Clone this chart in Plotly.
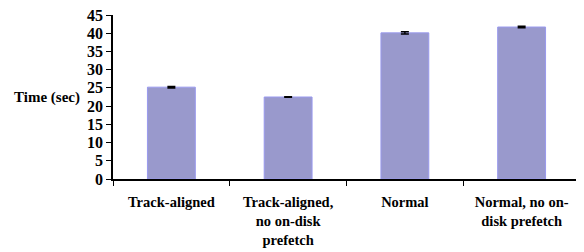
import plotly.graph_objects as go

categories = ["Track-aligned", "Track-aligned,<br>no on-disk<br>prefetch", "Normal", "Normal, no on-<br>disk prefetch"]
times = [25.2, 22.5, 40.1, 41.7]
errors = [0.2, 0.1, 0.3, 0.2]
y_ticks = [0, 5, 10, 15, 20, 25, 30, 35, 40, 45]

# The page body has an 8px default margin, so the figure is offset by 8px.
fig = go.Figure(go.Bar(
    x=categories, y=times,
    marker=dict(color="#9999cc", line=dict(color="#9999ee", width=1)),
    width=0.41,
    error_y=dict(type="data", array=errors, visible=True, color="black", thickness=1.5, width=4),
))

fig.update_layout(
    width=576, height=244,
    margin=dict(l=105, r=4, t=7, b=73),
    paper_bgcolor="white", plot_bgcolor="white",
    showlegend=False,
    font=dict(family="Liberation Serif", size=14, color="black"),
    xaxis=dict(showline=True, linecolor="black", linewidth=1.5, ticks="outside", ticklen=5,
               tickcolor="black", tickson="boundaries", showgrid=False, automargin=False,
               ticklabelstandoff=9,
               tickfont=dict(family="Liberation Serif", size=14.5, color="black")),
    yaxis=dict(range=[0, 45], tickvals=y_ticks, showline=True, linecolor="black", linewidth=1.5,
               ticks="outside", ticklen=5, tickcolor="black", showgrid=False, zeroline=False,
               automargin=False, ticklabeloverflow="allow",
               tickfont=dict(family="Liberation Serif", size=16, color="black")),
    annotations=[dict(text="<b>Time (sec)</b>", xref="paper", yref="paper", x=-0.066, y=0.5,
                      xanchor="right", yanchor="middle", showarrow=False,
                      font=dict(family="Liberation Serif", size=15, color="black"))],
)
fig.update_xaxes(ticktext=["<b>" + c.replace("<br>", "</b><br><b>") + "</b>" for c in categories],
                 tickvals=categories)
fig.update_yaxes(ticktext=["<b>%d</b>" % v for v in y_ticks])

fig.write_html("out.html")
